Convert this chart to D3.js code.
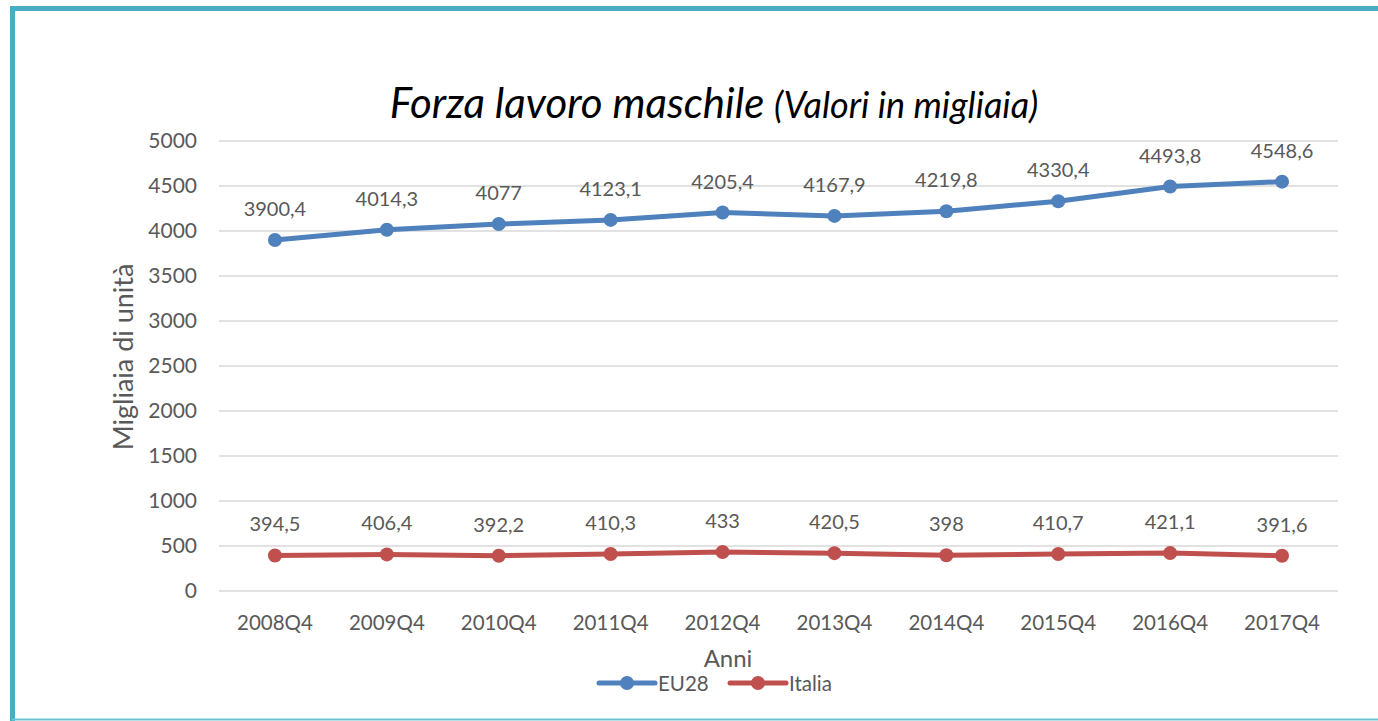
<!DOCTYPE html>
<html><head><meta charset="utf-8">
<script src="https://cdn.jsdelivr.net/npm/d3@7/dist/d3.min.js"></script>
<style>body{margin:0;background:#fff;}svg{display:block;}</style>
</head><body><svg id="c" width="1378" height="721"></svg>
<script>
const categories = ["2008Q4","2009Q4","2010Q4","2011Q4","2012Q4","2013Q4","2014Q4","2015Q4","2016Q4","2017Q4"];
const eu28 = [3900.4,4014.3,4077,4123.1,4205.4,4167.9,4219.8,4330.4,4493.8,4548.6];
const italia = [394.5,406.4,392.2,410.3,433,420.5,398,410.7,421.1,391.6];
const yTicks = [0,500,1000,1500,2000,2500,3000,3500,4000,4500,5000];
const seriesNames = ["EU28","Italia"];
const colors = ["#4F81BD","#C0504D"];

const svg = d3.select("#c");
const font = "Lato, 'Open Sans', sans-serif";
const txt = "#595959";

// border
svg.append("path").attr("d","M12.5,721 L12.5,8.5 L1378,8.5").attr("fill","none").attr("stroke","#4BACC6").attr("stroke-width",5);
svg.append("line").attr("x1",12).attr("x2",1378).attr("y1",719.5).attr("y2",719.5).attr("stroke","#6CC3D3").attr("stroke-width",2);

const x = d3.scaleBand().domain(categories).range([219,1338]);
const y = d3.scaleLinear().domain([0,5000]).range([591,141]);

// grid
svg.append("g").selectAll("line").data(yTicks).join("line")
  .attr("x1",219).attr("x2",1338).attr("y1",d=>y(d)).attr("y2",d=>y(d))
  .attr("stroke","#D9D9D9").attr("stroke-width",1.5);

// y axis
const ya = svg.append("g").attr("transform","translate(219,0)")
  .call(d3.axisLeft(y).tickValues(yTicks).tickSize(0).tickPadding(22).tickFormat(d3.format("d")));
ya.select(".domain").remove();
ya.selectAll("text").attr("fill",txt).style("font-family",font).style("font-size","21px");

// x axis
const xa = svg.append("g").attr("transform","translate(0,591)")
  .call(d3.axisBottom(x).tickSize(0).tickPadding(24));
xa.select(".domain").remove();
xa.selectAll("text").attr("fill",txt).style("font-family",font).style("font-size","20.5px");

// title
const t = svg.append("text").attr("x",714).attr("y",118).attr("text-anchor","middle")
  .style("font-family",font).style("font-style","italic").attr("fill","#000");
t.append("tspan").text("Forza lavoro maschile ").style("font-size","42px");
t.append("tspan").text("(Valori in migliaia)").style("font-size","36px");

// axis titles
svg.append("text").attr("transform","translate(133,357) rotate(-90)").attr("text-anchor","middle")
  .style("font-family",font).style("font-size","27px").attr("fill",txt).text("Migliaia di unità");
svg.append("text").attr("x",728).attr("y",667).attr("text-anchor","middle")
  .style("font-family",font).style("font-size","24px").attr("fill",txt).text("Anni");

const fmt = v => String(v).replace(".",",");
const cx = c => x(c) + x.bandwidth()/2;
[eu28, italia].forEach((vals,i)=>{
  const data = categories.map((c,j)=>({c,v:vals[j]}));
  svg.append("path").datum(data).attr("fill","none").attr("stroke",colors[i]).attr("stroke-width",5)
    .attr("stroke-linejoin","round").attr("stroke-linecap","round")
    .attr("d", d3.line().x(d=>cx(d.c)).y(d=>y(d.v)));
  svg.append("g").selectAll("circle").data(data).join("circle")
    .attr("cx",d=>cx(d.c)).attr("cy",d=>y(d.v)).attr("r",7).attr("fill",colors[i]);
  svg.append("g").selectAll("text").data(data).join("text")
    .attr("x",d=>cx(d.c)).attr("y",d=>y(d.v)-24).attr("text-anchor","middle")
    .style("font-family",font).style("font-size","20px").attr("fill",txt).text(d=>fmt(d.v));
});

// legend
const leg = [{n:seriesNames[0],x0:599},{n:seriesNames[1],x0:730}];
leg.forEach((l,i)=>{
  const g = svg.append("g");
  g.append("line").attr("x1",l.x0).attr("x2",l.x0+56).attr("y1",683).attr("y2",683)
    .attr("stroke",colors[i]).attr("stroke-width",5).attr("stroke-linecap","round");
  g.append("circle").attr("cx",l.x0+28).attr("cy",683).attr("r",7).attr("fill",colors[i]);
  g.append("text").attr("x",l.x0+59).attr("y",690.5).style("font-family",font).style("font-size","20.5px")
    .attr("fill",txt).text(l.n);
});
</script></body></html>
